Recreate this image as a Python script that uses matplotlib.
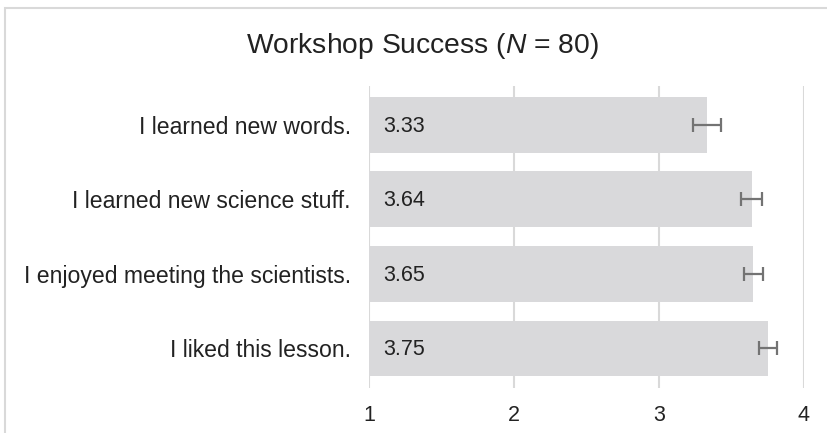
import matplotlib
matplotlib.use("Agg")
import matplotlib.pyplot as plt
from matplotlib.patches import Rectangle

categories = ["I learned new words.", "I learned new science stuff.",
              "I enjoyed meeting the scientists.", "I liked this lesson."]
means = [3.33, 3.64, 3.65, 3.75]
errors = [0.097, 0.072, 0.066, 0.062]
xticks = [1, 2, 3, 4]

plt.rcParams['font.family'] = ['Liberation Sans', 'DejaVu Sans']
plt.rcParams['mathtext.fontset'] = 'custom'
plt.rcParams['mathtext.rm'] = 'Liberation Sans'
plt.rcParams['mathtext.it'] = 'Liberation Sans:italic'

fig = plt.figure(figsize=(8.27, 4.33), dpi=100)
W, H = 827, 433
ax = fig.add_axes([369 / W, 1 - 388 / H, (804 - 369) / W, (388 - 86) / H])

ypos = list(range(len(categories)))
ax.barh(ypos, [m - 1 for m in means], left=1, height=0.75, color='#d9d9db',
        zorder=2)
ax.errorbar(means, ypos, xerr=errors, fmt='none', ecolor='#737373',
            elinewidth=1.6, capsize=5, capthick=1.6, zorder=3)
for y, m in zip(ypos, means):
    ax.text(1.095, y + 0.02, f"{m:.2f}", va='center', ha='left', fontsize=15.5,
            color='#222222', zorder=4)

ax.set_xlim(1, 4)
ax.set_ylim(3.53, -0.52)
ax.set_xticks(xticks)
ax.set_xticklabels([str(t) for t in xticks], fontsize=15.5, color='#222222')
ax.set_yticks(ypos)
ax.set_yticklabels(categories, fontsize=16.6, color='#222222')
ax.tick_params(axis='both', length=0)
ax.tick_params(axis='y', pad=13)
ax.tick_params(axis='x', pad=12)
ax.grid(axis='x', color='#d9d9d9', linewidth=1.5, zorder=0)
for s in ax.spines.values():
    s.set_visible(False)
ax.set_axisbelow(True)

fig.text(422 / W, 1 - 46 / H, r"Workshop Success ($N$ = 80)", ha='center',
         va='center', fontsize=20.3, color='#222222')

fig.patches.append(Rectangle((4.5 / W, -0.1), 1.2, 1.1 - 8 / H,
                             transform=fig.transFigure, fill=False,
                             edgecolor='#d9d9d9', linewidth=1.5))

fig.savefig("out.png", dpi=100, facecolor='white')
